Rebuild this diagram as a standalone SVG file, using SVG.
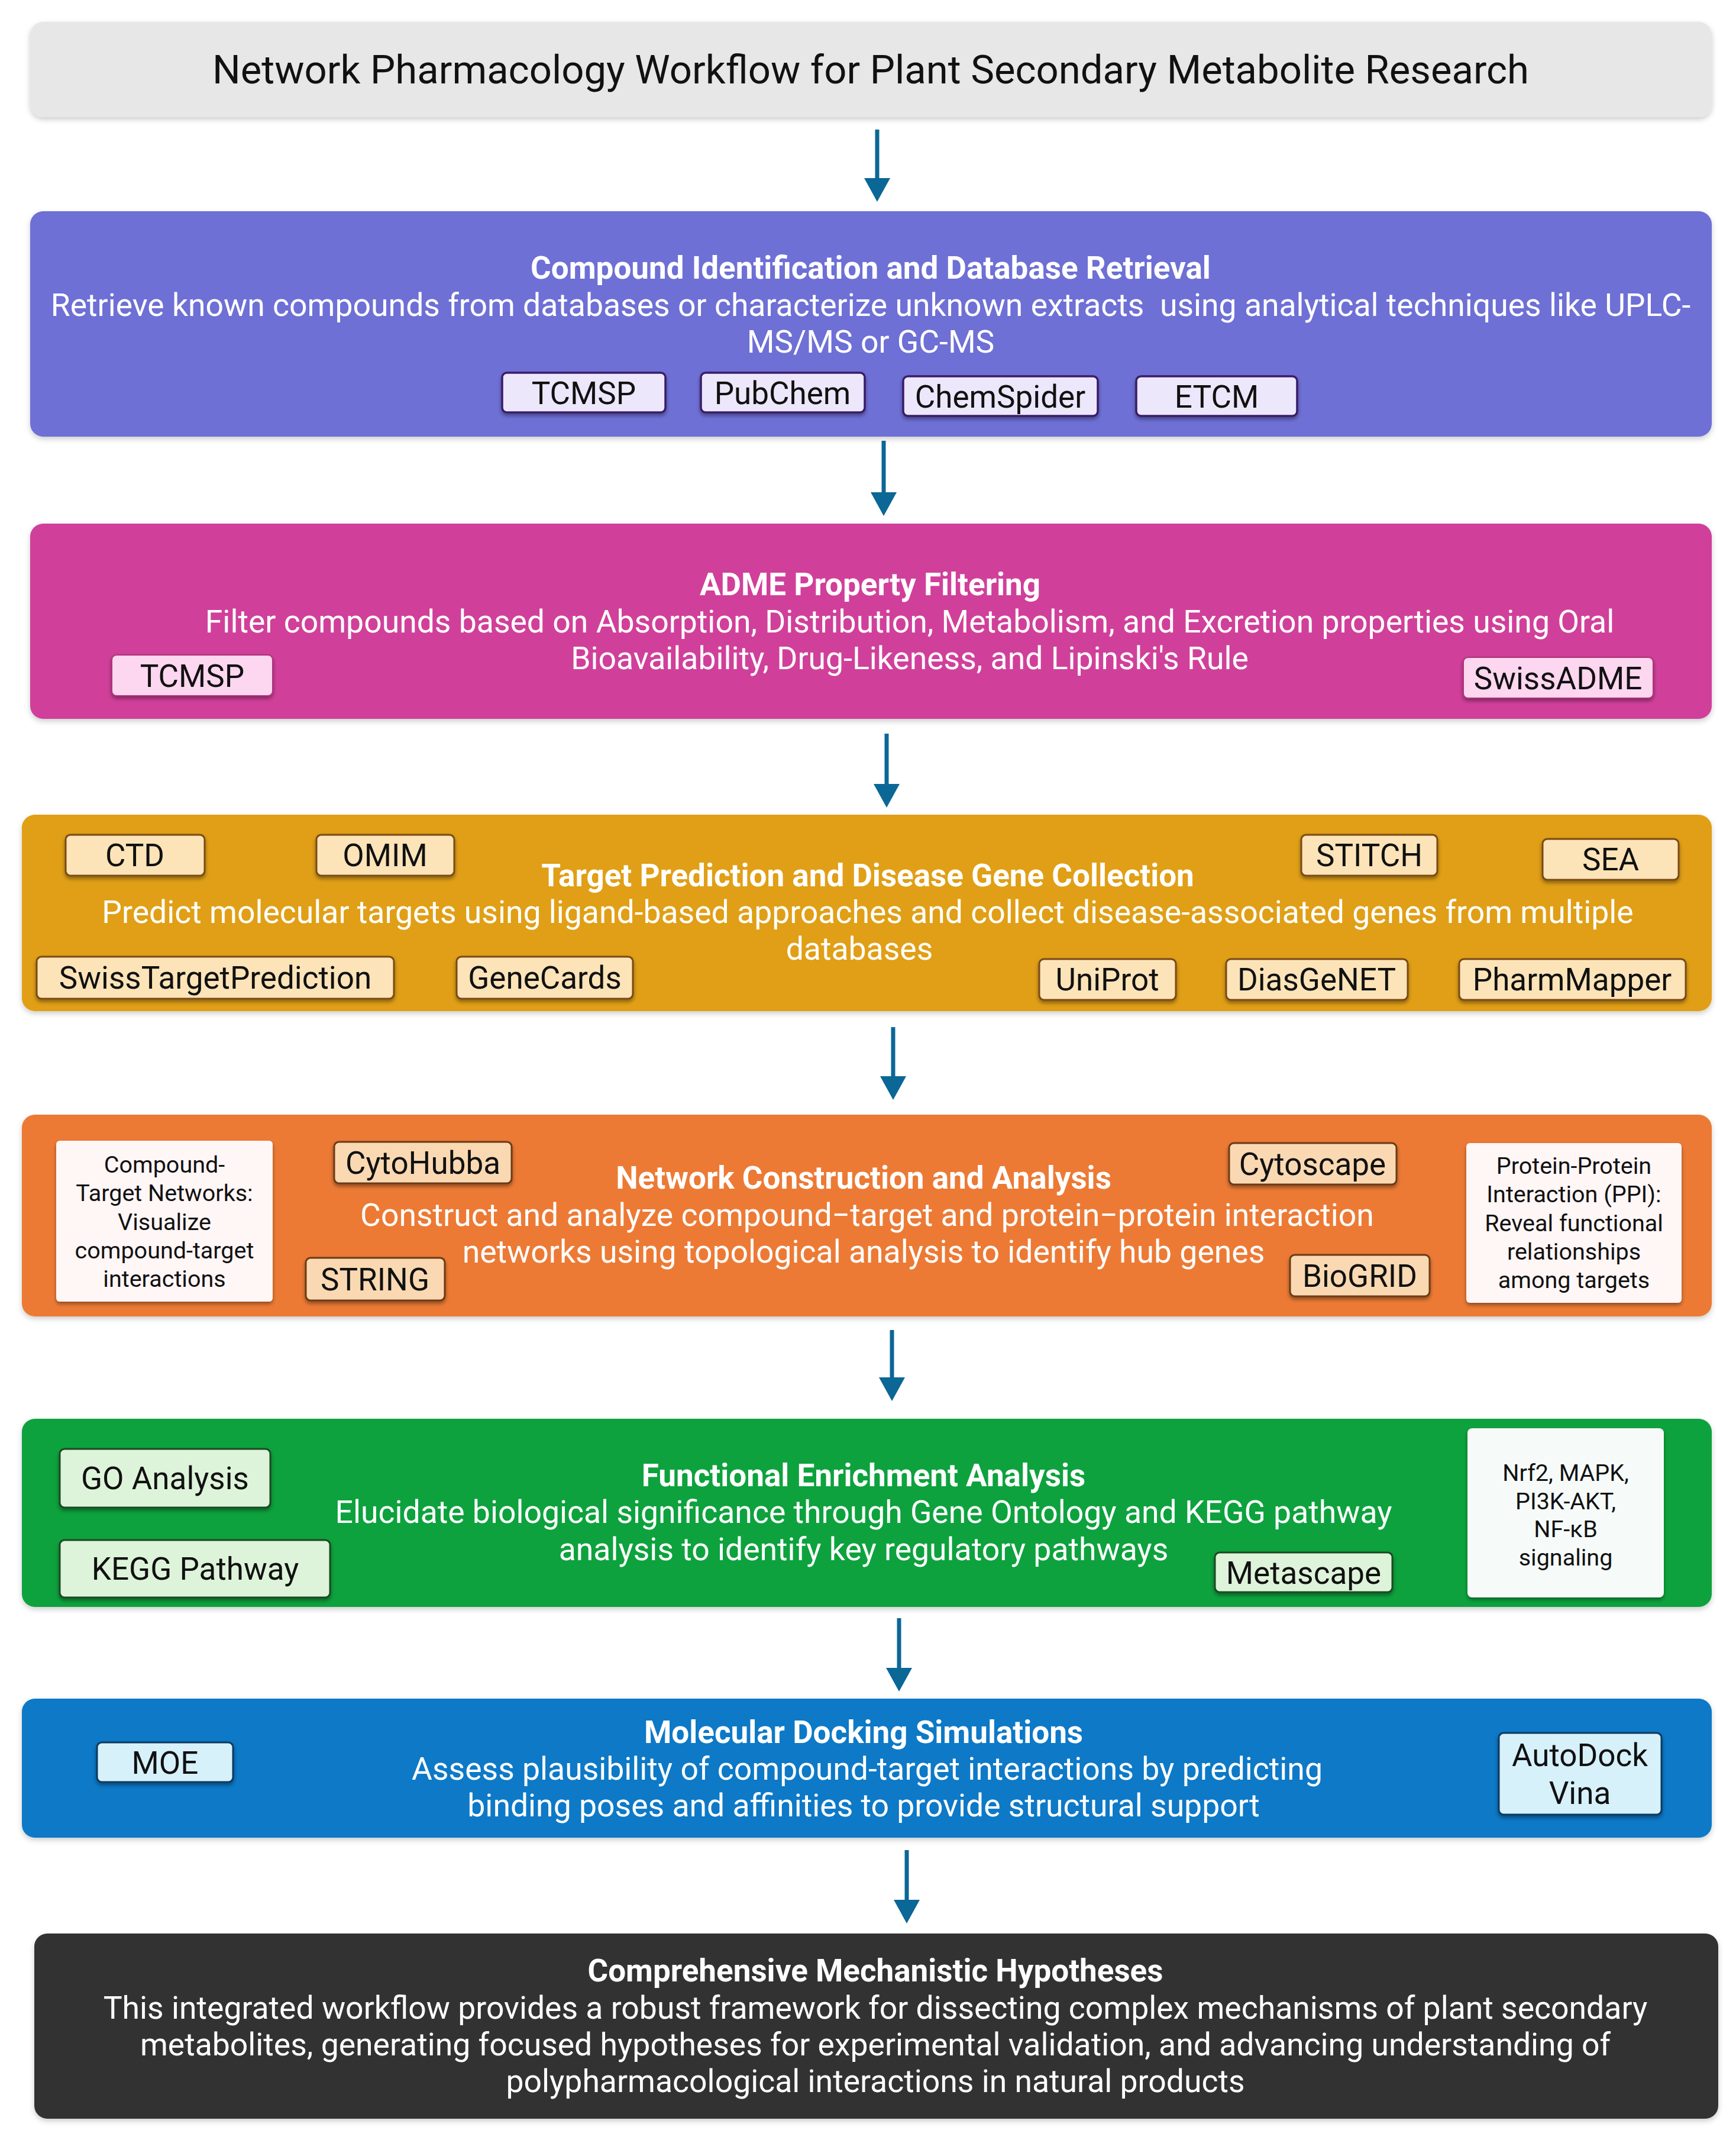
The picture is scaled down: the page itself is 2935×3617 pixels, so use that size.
<svg xmlns="http://www.w3.org/2000/svg" width="2935" height="3617" viewBox="0 0 2935 3617">
<style>
text{font-family:Roboto,"Liberation Sans",sans-serif;text-anchor:middle}
.h{font-weight:bold;font-size:53px;fill:#fff}
.d{font-size:53.5px;fill:#fff}
.t{font-size:53px;fill:#111}
.s{font-size:39.5px;fill:#111}
.arr{stroke:#0B6796;stroke-width:7;fill:none;marker-end:url(#ah)}
</style>
<defs>
<filter id="sh" x="-10%" y="-10%" width="120%" height="130%"><feDropShadow dx="0" dy="4" stdDeviation="3" flood-color="#000" flood-opacity="0.38"/></filter>
<filter id="bs" x="-5%" y="-10%" width="110%" height="130%"><feDropShadow dx="0" dy="4" stdDeviation="5" flood-color="#000" flood-opacity="0.2"/></filter>
<marker id="ah" markerUnits="userSpaceOnUse" markerWidth="40" markerHeight="44" refX="20" refY="22" orient="auto"><path d="M0,0 L40,22 L0,44 z" fill="#0B6796"/></marker>
</defs>

<g id="connectors">
<line class="arr" x1="1483" y1="219" x2="1483" y2="321"/>
<line class="arr" x1="1494" y1="745" x2="1494" y2="852"/>
<line class="arr" x1="1499" y1="1240" x2="1499" y2="1345"/>
<line class="arr" x1="1510" y1="1736" x2="1510" y2="1839"/>
<line class="arr" x1="1508" y1="2248" x2="1508" y2="2348"/>
<line class="arr" x1="1520" y1="2735" x2="1520" y2="2839"/>
<line class="arr" x1="1533" y1="3127" x2="1533" y2="3231"/>
</g>

<g id="title">
<rect x="51" y="37" width="2843" height="161" rx="22" fill="#E6E7E6" filter="url(#bs)"/>
<text x="1472" y="141" style="font-size:67px;fill:#111">Network Pharmacology Workflow for Plant Secondary Metabolite Research</text>
</g>

<g id="compound-identification">
<rect x="51" y="357" width="2843" height="381" rx="22" fill="#6E6FD5" filter="url(#bs)"/>
<text class="h" x="1472" y="471">Compound Identification and Database Retrieval</text>
<text class="d" x="1472" y="534" xml:space="preserve">Retrieve known compounds from databases or characterize unknown extracts  using analytical techniques like UPLC-</text>
<text class="d" x="1472" y="596">MS/MS or GC-MS</text>
<g fill="#ECE7FB" stroke="#3A1D6A" stroke-width="3.5" filter="url(#sh)">
<rect x="849" y="630" width="276" height="67" rx="8"/>
<rect x="1185" y="630" width="277" height="67" rx="8"/>
<rect x="1527" y="636" width="329" height="67" rx="8"/>
<rect x="1921" y="636" width="272" height="67" rx="8"/>
</g>
<text class="t" x="987" y="683">TCMSP</text>
<text class="t" x="1323" y="683">PubChem</text>
<text class="t" x="1691" y="689">ChemSpider</text>
<text class="t" x="2057" y="689">ETCM</text>
</g>

<g id="adme-filtering">
<rect x="51" y="885" width="2843" height="330" rx="22" fill="#D0409A" filter="url(#bs)"/>
<text class="h" x="1471" y="1006">ADME Property Filtering</text>
<text class="d" x="1538" y="1069">Filter compounds based on Absorption, Distribution, Metabolism, and Excretion properties using Oral</text>
<text class="d" x="1538" y="1131">Bioavailability, Drug-Likeness, and Lipinski's Rule</text>
<g fill="#FDD6EF" stroke="#B03379" stroke-width="2" filter="url(#sh)">
<rect x="189" y="1107" width="272" height="69" rx="8"/>
<rect x="2474" y="1111" width="321" height="69" rx="8"/>
</g>
<text class="t" x="325" y="1161">TCMSP</text>
<text class="t" x="2634" y="1165">SwissADME</text>
</g>

<g id="target-prediction">
<rect x="37" y="1377" width="2857" height="332" rx="22" fill="#E09F12" filter="url(#bs)"/>
<text class="h" x="1467" y="1498">Target Prediction and Disease Gene Collection</text>
<text class="d" x="1467" y="1560">Predict molecular targets using ligand-based approaches and collect disease-associated genes from multiple</text>
<text class="d" x="1453" y="1622">databases</text>
<g fill="#FCE4B8" stroke="#7A4A12" stroke-width="3" filter="url(#sh)">
<rect x="111" y="1411" width="235" height="69" rx="8"/>
<rect x="535" y="1411" width="233" height="69" rx="8"/>
<rect x="2200" y="1411" width="230" height="69" rx="8"/>
<rect x="2608" y="1418" width="230" height="69" rx="8"/>
<rect x="62" y="1617" width="604" height="71" rx="8"/>
<rect x="772" y="1617" width="298" height="71" rx="8"/>
<rect x="1757" y="1621" width="231" height="69" rx="8"/>
<rect x="2073" y="1621" width="307" height="69" rx="8"/>
<rect x="2467" y="1621" width="383" height="69" rx="8"/>
</g>
<text class="t" x="228" y="1464">CTD</text>
<text class="t" x="651" y="1464">OMIM</text>
<text class="t" x="2315" y="1464">STITCH</text>
<text class="t" x="2723" y="1471">SEA</text>
<text class="t" x="364" y="1671">SwissTargetPrediction</text>
<text class="t" x="921" y="1671">GeneCards</text>
<text class="t" x="1872" y="1674">UniProt</text>
<text class="t" x="2226" y="1674">DiasGeNET</text>
<text class="t" x="2658" y="1674">PharmMapper</text>
</g>

<g id="network-construction">
<rect x="37" y="1884" width="2857" height="341" rx="22" fill="#EC7A34" filter="url(#bs)"/>
<text class="h" x="1460" y="2009">Network Construction and Analysis</text>
<text class="d" x="1466" y="2072">Construct and analyze compound−target and protein−protein interaction</text>
<text class="d" x="1460" y="2134">networks using topological analysis to identify hub genes</text>
<rect x="95" y="1928" width="366" height="272" rx="6" fill="#FFF6F6" filter="url(#sh)"/>
<text class="s" x="278" y="1982">Compound-</text>
<text class="s" x="278" y="2030">Target Networks:</text>
<text class="s" x="278" y="2079">Visualize</text>
<text class="s" x="278" y="2127">compound-target</text>
<text class="s" x="278" y="2175">interactions</text>
<rect x="2479" y="1932" width="364" height="270" rx="6" fill="#FFF6F6" filter="url(#sh)"/>
<text class="s" x="2661" y="1984">Protein-Protein</text>
<text class="s" x="2661" y="2032">Interaction (PPI):</text>
<text class="s" x="2661" y="2081">Reveal functional</text>
<text class="s" x="2661" y="2129">relationships</text>
<text class="s" x="2661" y="2177">among targets</text>
<g fill="#FAD9B2" stroke="#6B3A12" stroke-width="3" filter="url(#sh)">
<rect x="565" y="1930" width="300" height="70" rx="8"/>
<rect x="2078" y="1932" width="283" height="70" rx="8"/>
<rect x="517" y="2126" width="235" height="72" rx="8"/>
<rect x="2181" y="2121" width="236" height="70" rx="8"/>
</g>
<text class="t" x="715" y="1984">CytoHubba</text>
<text class="t" x="2219" y="1986">Cytoscape</text>
<text class="t" x="634" y="2181">STRING</text>
<text class="t" x="2299" y="2175">BioGRID</text>
</g>

<g id="functional-enrichment">
<rect x="37" y="2398" width="2857" height="318" rx="22" fill="#0BA23D" filter="url(#bs)"/>
<text class="h" x="1460" y="2512">Functional Enrichment Analysis</text>
<text class="d" x="1460" y="2574">Elucidate biological significance through Gene Ontology and KEGG pathway</text>
<text class="d" x="1460" y="2637">analysis to identify key regulatory pathways</text>
<g fill="#DEF4DA" stroke="#1B4A22" stroke-width="3" filter="url(#sh)">
<rect x="101" y="2449" width="356" height="99" rx="8"/>
<rect x="101" y="2603" width="457" height="97" rx="8"/>
<rect x="2054" y="2624" width="300" height="67" rx="8"/>
</g>
<text class="t" x="279" y="2517">GO Analysis</text>
<text class="t" x="330" y="2670">KEGG Pathway</text>
<text class="t" x="2204" y="2677">Metascape</text>
<rect x="2481" y="2414" width="332" height="286" rx="8" fill="#F6FBFA" filter="url(#sh)"/>
<text class="s" x="2647" y="2503">Nrf2, MAPK,</text>
<text class="s" x="2647" y="2551">PI3K-AKT,</text>
<text class="s" x="2647" y="2598">NF-κB</text>
<text class="s" x="2647" y="2646">signaling</text>
</g>

<g id="molecular-docking">
<rect x="37" y="2871" width="2857" height="235" rx="22" fill="#0B79C7" filter="url(#bs)"/>
<text class="h" x="1460" y="2946">Molecular Docking Simulations</text>
<text class="d" x="1466" y="3008">Assess plausibility of compound-target interactions by predicting</text>
<text class="d" x="1460" y="3070">binding poses and affinities to provide structural support</text>
<g fill="#D7F1FB" stroke="#0A3A60" stroke-width="3" filter="url(#sh)">
<rect x="164" y="2945" width="230" height="67" rx="8"/>
<rect x="2534" y="2929" width="275" height="138" rx="8"/>
</g>
<text class="t" x="279" y="2998">MOE</text>
<text class="t" x="2671" y="2985">AutoDock</text>
<text class="t" x="2671" y="3049">Vina</text>
</g>

<g id="hypotheses">
<rect x="58" y="3268" width="2847" height="313" rx="22" fill="#333333" filter="url(#bs)"/>
<text class="h" x="1480" y="3349">Comprehensive Mechanistic Hypotheses</text>
<text class="d" x="1480" y="3412">This integrated workflow provides a robust framework for dissecting complex mechanisms of plant secondary</text>
<text class="d" x="1480" y="3474">metabolites, generating focused hypotheses for experimental validation, and advancing understanding of</text>
<text class="d" x="1480" y="3536">polypharmacological interactions in natural products</text>
</g>
</svg>
